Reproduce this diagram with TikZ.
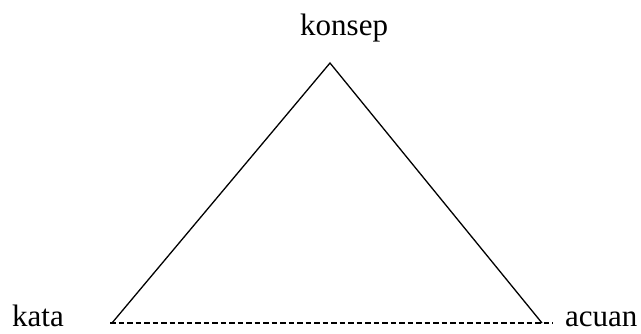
\documentclass[tikz,border=0pt]{standalone}
\usepackage{fontspec}
\setmainfont{Liberation Serif}
\begin{document}
\begin{tikzpicture}[x=1pt,y=-1pt,
  lbl/.style={inner sep=0pt,anchor=base west,font=\fontsize{31}{36}\selectfont},
  side/.style={line width=1.3pt,line join=miter},
  base/.style={line width=1.6pt,dash pattern=on 5.5pt off 3pt}]
\useasboundingbox (0,0) rectangle (641,333);
\node[lbl] (konsep) at (300,35) {konsep};
\node[lbl] (kata) at (12,326) {kata};
\node[lbl] (acuan) at (565,326) {acuan};
\coordinate (top) at (330,63);
\coordinate (bl) at (112,323);
\coordinate (br) at (542,323);
\coordinate (dl) at (110,323);
\coordinate (dr) at (553,323);
\draw[side] (bl) -- (top) -- (br);
\draw[base] (dl) -- (dr);
\end{tikzpicture}
\end{document}
